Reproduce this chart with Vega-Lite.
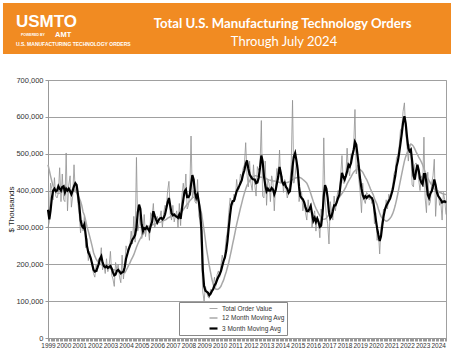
{
"$schema":"https://vega.github.io/schema/vega-lite/v6.json",
"padding":{"left":2,"top":3,"right":2,"bottom":0},
"background":"white",
"spacing":21,
"config":{"font":"Liberation Sans","view":{"stroke":null}},
"datasets":{"orders":[
{"d":"1999-01","t":300000,"a":470000,"s":348000},{"d":"1999-02","t":315000,"a":455000,"s":322000},{"d":"1999-03","t":420000,"a":440000,"s":345000},{"d":"1999-04","t":405000,"a":425000,"s":380000},{"d":"1999-05","t":375000,"a":412000,"s":400000},{"d":"1999-06","t":435000,"a":402000,"s":405000},{"d":"1999-07","t":385000,"a":396000,"s":398000},{"d":"1999-08","t":380000,"a":393000,"s":400000},{"d":"1999-09","t":395000,"a":392000,"s":412000},{"d":"1999-10","t":462000,"a":393000,"s":405000},{"d":"1999-11","t":370000,"a":395000,"s":400000},{"d":"1999-12","t":445000,"a":398000,"s":410000},
{"d":"2000-01","t":375000,"a":400000,"s":412000},{"d":"2000-02","t":370000,"a":402000,"s":395000},{"d":"2000-03","t":502000,"a":403000,"s":405000},{"d":"2000-04","t":345000,"a":402000,"s":400000},{"d":"2000-05","t":415000,"a":402000,"s":405000},{"d":"2000-06","t":440000,"a":401000,"s":398000},{"d":"2000-07","t":355000,"a":400000,"s":390000},{"d":"2000-08","t":385000,"a":401000,"s":400000},{"d":"2000-09","t":470000,"a":402000,"s":412000},{"d":"2000-10","t":395000,"a":400000,"s":420000},{"d":"2000-11","t":410000,"a":395000,"s":415000},{"d":"2000-12","t":365000,"a":388000,"s":390000},
{"d":"2001-01","t":335000,"a":380000,"s":362000},{"d":"2001-02","t":285000,"a":371000,"s":320000},{"d":"2001-03","t":320000,"a":360000,"s":305000},{"d":"2001-04","t":290000,"a":342000,"s":300000},{"d":"2001-05","t":330000,"a":333000,"s":308000},{"d":"2001-06","t":245000,"a":318000,"s":280000},{"d":"2001-07","t":270000,"a":302000,"s":250000},{"d":"2001-08","t":210000,"a":290000,"s":232000},{"d":"2001-09","t":235000,"a":276000,"s":225000},{"d":"2001-10","t":220000,"a":263000,"s":215000},{"d":"2001-11","t":195000,"a":248000,"s":200000},{"d":"2001-12","t":175000,"a":232000,"s":185000},
{"d":"2002-01","t":165000,"a":222000,"s":180000},{"d":"2002-02","t":200000,"a":214000,"s":182000},{"d":"2002-03","t":180000,"a":209000,"s":190000},{"d":"2002-04","t":215000,"a":205000,"s":200000},{"d":"2002-05","t":210000,"a":201000,"s":215000},{"d":"2002-06","t":245000,"a":199000,"s":222000},{"d":"2002-07","t":185000,"a":197000,"s":205000},{"d":"2002-08","t":200000,"a":195000,"s":195000},{"d":"2002-09","t":175000,"a":193000,"s":192000},{"d":"2002-10","t":215000,"a":191000,"s":195000},{"d":"2002-11","t":180000,"a":190000,"s":190000},{"d":"2002-12","t":195000,"a":189000,"s":193000},
{"d":"2003-01","t":235000,"a":188000,"s":195000},{"d":"2003-02","t":170000,"a":187000,"s":188000},{"d":"2003-03","t":160000,"a":186000,"s":178000},{"d":"2003-04","t":140000,"a":185000,"s":170000},{"d":"2003-05","t":205000,"a":184000,"s":172000},{"d":"2003-06","t":185000,"a":183000,"s":182000},{"d":"2003-07","t":200000,"a":183000,"s":185000},{"d":"2003-08","t":165000,"a":182000,"s":180000},{"d":"2003-09","t":150000,"a":181000,"s":175000},{"d":"2003-10","t":225000,"a":180000,"s":178000},{"d":"2003-11","t":160000,"a":178000,"s":180000},{"d":"2003-12","t":195000,"a":177000,"s":192000},
{"d":"2004-01","t":250000,"a":183000,"s":215000},{"d":"2004-02","t":235000,"a":190000,"s":228000},{"d":"2004-03","t":245000,"a":197000,"s":240000},{"d":"2004-04","t":255000,"a":204000,"s":250000},{"d":"2004-05","t":290000,"a":212000,"s":258000},{"d":"2004-06","t":255000,"a":219000,"s":268000},{"d":"2004-07","t":330000,"a":226000,"s":272000},{"d":"2004-08","t":260000,"a":236000,"s":280000},{"d":"2004-09","t":490000,"a":246000,"s":300000},{"d":"2004-10","t":290000,"a":255000,"s":340000},{"d":"2004-11","t":310000,"a":263000,"s":362000},{"d":"2004-12","t":345000,"a":270000,"s":350000},
{"d":"2005-01","t":270000,"a":276000,"s":308000},{"d":"2005-02","t":285000,"a":281000,"s":290000},{"d":"2005-03","t":335000,"a":286000,"s":298000},{"d":"2005-04","t":275000,"a":292000,"s":296000},{"d":"2005-05","t":300000,"a":297000,"s":302000},{"d":"2005-06","t":305000,"a":298000,"s":295000},{"d":"2005-07","t":265000,"a":300000,"s":290000},{"d":"2005-08","t":340000,"a":302000,"s":305000},{"d":"2005-09","t":330000,"a":306000,"s":315000},{"d":"2005-10","t":365000,"a":308000,"s":344000},{"d":"2005-11","t":300000,"a":310000,"s":332000},{"d":"2005-12","t":310000,"a":311000,"s":322000},
{"d":"2006-01","t":330000,"a":312000,"s":313000},{"d":"2006-02","t":315000,"a":313000,"s":320000},{"d":"2006-03","t":325000,"a":314000,"s":324000},{"d":"2006-04","t":345000,"a":315000,"s":326000},{"d":"2006-05","t":300000,"a":317000,"s":322000},{"d":"2006-06","t":340000,"a":319000,"s":326000},{"d":"2006-07","t":360000,"a":320000,"s":335000},{"d":"2006-08","t":355000,"a":322000,"s":352000},{"d":"2006-09","t":400000,"a":325000,"s":368000},{"d":"2006-10","t":425000,"a":327000,"s":380000},{"d":"2006-11","t":335000,"a":329000,"s":358000},{"d":"2006-12","t":320000,"a":330000,"s":338000},
{"d":"2007-01","t":360000,"a":331000,"s":333000},{"d":"2007-02","t":315000,"a":332000,"s":335000},{"d":"2007-03","t":330000,"a":333000,"s":331000},{"d":"2007-04","t":345000,"a":333000,"s":329000},{"d":"2007-05","t":300000,"a":334000,"s":326000},{"d":"2007-06","t":365000,"a":335000,"s":335000},{"d":"2007-07","t":305000,"a":337000,"s":323000},{"d":"2007-08","t":385000,"a":343000,"s":350000},{"d":"2007-09","t":420000,"a":348000,"s":375000},{"d":"2007-10","t":390000,"a":353000,"s":398000},{"d":"2007-11","t":445000,"a":358000,"s":403000},{"d":"2007-12","t":350000,"a":363000,"s":382000},
{"d":"2008-01","t":360000,"a":367000,"s":382000},{"d":"2008-02","t":395000,"a":372000,"s":389000},{"d":"2008-03","t":548000,"a":376000,"s":417000},{"d":"2008-04","t":380000,"a":380000,"s":442000},{"d":"2008-05","t":400000,"a":382000,"s":430000},{"d":"2008-06","t":370000,"a":382000,"s":395000},{"d":"2008-07","t":365000,"a":380000,"s":380000},{"d":"2008-08","t":430000,"a":376000,"s":389000},{"d":"2008-09","t":330000,"a":368000,"s":368000},{"d":"2008-10","t":320000,"a":355000,"s":340000},{"d":"2008-11","t":230000,"a":338000,"s":290000},{"d":"2008-12","t":125000,"a":315000,"s":185000},
{"d":"2009-01","t":100000,"a":292000,"s":140000},{"d":"2009-02","t":140000,"a":265000,"s":128000},{"d":"2009-03","t":125000,"a":240000,"s":126000},{"d":"2009-04","t":112000,"a":218000,"s":123000},{"d":"2009-05","t":108000,"a":197000,"s":116000},{"d":"2009-06","t":132000,"a":178000,"s":120000},{"d":"2009-07","t":130000,"a":160000,"s":127000},{"d":"2009-08","t":138000,"a":146000,"s":132000},{"d":"2009-09","t":165000,"a":138000,"s":143000},{"d":"2009-10","t":140000,"a":133000,"s":148000},{"d":"2009-11","t":172000,"a":132000,"s":158000},{"d":"2009-12","t":182000,"a":133000,"s":166000},
{"d":"2010-01","t":165000,"a":136000,"s":173000},{"d":"2010-02","t":200000,"a":141000,"s":182000},{"d":"2010-03","t":225000,"a":149000,"s":195000},{"d":"2010-04","t":205000,"a":157000,"s":209000},{"d":"2010-05","t":230000,"a":168000,"s":218000},{"d":"2010-06","t":270000,"a":179000,"s":236000},{"d":"2010-07","t":290000,"a":192000,"s":263000},{"d":"2010-08","t":340000,"a":205000,"s":300000},{"d":"2010-09","t":380000,"a":222000,"s":335000},{"d":"2010-10","t":370000,"a":238000,"s":362000},{"d":"2010-11","t":360000,"a":256000,"s":371000},{"d":"2010-12","t":390000,"a":272000,"s":372000},
{"d":"2011-01","t":375000,"a":290000,"s":385000},{"d":"2011-02","t":430000,"a":308000,"s":398000},{"d":"2011-03","t":400000,"a":322000,"s":405000},{"d":"2011-04","t":405000,"a":337000,"s":412000},{"d":"2011-05","t":445000,"a":352000,"s":420000},{"d":"2011-06","t":430000,"a":366000,"s":428000},{"d":"2011-07","t":460000,"a":380000,"s":444000},{"d":"2011-08","t":470000,"a":393000,"s":455000},{"d":"2011-09","t":530000,"a":404000,"s":472000},{"d":"2011-10","t":445000,"a":414000,"s":482000},{"d":"2011-11","t":410000,"a":420000,"s":460000},{"d":"2011-12","t":480000,"a":426000,"s":444000},
{"d":"2012-01","t":420000,"a":432000,"s":438000},{"d":"2012-02","t":400000,"a":436000,"s":432000},{"d":"2012-03","t":470000,"a":438000,"s":430000},{"d":"2012-04","t":415000,"a":440000,"s":430000},{"d":"2012-05","t":385000,"a":440000,"s":420000},{"d":"2012-06","t":465000,"a":439000,"s":422000},{"d":"2012-07","t":455000,"a":438000,"s":435000},{"d":"2012-08","t":465000,"a":437000,"s":462000},{"d":"2012-09","t":590000,"a":436000,"s":495000},{"d":"2012-10","t":385000,"a":436000,"s":480000},{"d":"2012-11","t":380000,"a":435000,"s":440000},{"d":"2012-12","t":480000,"a":434000,"s":415000},
{"d":"2013-01","t":360000,"a":432000,"s":398000},{"d":"2013-02","t":430000,"a":430000,"s":405000},{"d":"2013-03","t":420000,"a":429000,"s":400000},{"d":"2013-04","t":370000,"a":428000,"s":400000},{"d":"2013-05","t":440000,"a":427000,"s":407000},{"d":"2013-06","t":420000,"a":426000,"s":403000},{"d":"2013-07","t":345000,"a":426000,"s":390000},{"d":"2013-08","t":415000,"a":425000,"s":400000},{"d":"2013-09","t":460000,"a":424000,"s":420000},{"d":"2013-10","t":430000,"a":423000,"s":438000},{"d":"2013-11","t":510000,"a":422000,"s":464000},{"d":"2013-12","t":420000,"a":421000,"s":448000},
{"d":"2014-01","t":440000,"a":421000,"s":425000},{"d":"2014-02","t":395000,"a":421000,"s":417000},{"d":"2014-03","t":430000,"a":421000,"s":421000},{"d":"2014-04","t":405000,"a":421000,"s":410000},{"d":"2014-05","t":380000,"a":422000,"s":405000},{"d":"2014-06","t":395000,"a":423000,"s":394000},{"d":"2014-07","t":420000,"a":425000,"s":398000},{"d":"2014-08","t":470000,"a":427000,"s":425000},{"d":"2014-09","t":645000,"a":430000,"s":465000},{"d":"2014-10","t":420000,"a":432000,"s":492000},{"d":"2014-11","t":440000,"a":434000,"s":502000},{"d":"2014-12","t":480000,"a":435000,"s":482000},
{"d":"2015-01","t":470000,"a":436000,"s":455000},{"d":"2015-02","t":370000,"a":436000,"s":410000},{"d":"2015-03","t":390000,"a":435000,"s":385000},{"d":"2015-04","t":395000,"a":433000,"s":380000},{"d":"2015-05","t":345000,"a":430000,"s":376000},{"d":"2015-06","t":370000,"a":427000,"s":368000},{"d":"2015-07","t":340000,"a":424000,"s":355000},{"d":"2015-08","t":320000,"a":420000,"s":344000},{"d":"2015-09","t":375000,"a":412000,"s":344000},{"d":"2015-10","t":340000,"a":403000,"s":350000},{"d":"2015-11","t":365000,"a":392000,"s":358000},{"d":"2015-12","t":300000,"a":381000,"s":338000},
{"d":"2016-01","t":330000,"a":370000,"s":318000},{"d":"2016-02","t":345000,"a":360000,"s":326000},{"d":"2016-03","t":290000,"a":352000,"s":315000},{"d":"2016-04","t":330000,"a":345000,"s":324000},{"d":"2016-05","t":315000,"a":338000,"s":315000},{"d":"2016-06","t":272000,"a":332000,"s":302000},{"d":"2016-07","t":350000,"a":327000,"s":305000},{"d":"2016-08","t":330000,"a":323000,"s":335000},{"d":"2016-09","t":543000,"a":322000,"s":385000},{"d":"2016-10","t":380000,"a":323000,"s":415000},{"d":"2016-11","t":330000,"a":325000,"s":405000},{"d":"2016-12","t":310000,"a":330000,"s":380000},
{"d":"2017-01","t":255000,"a":335000,"s":340000},{"d":"2017-02","t":370000,"a":340000,"s":325000},{"d":"2017-03","t":340000,"a":346000,"s":330000},{"d":"2017-04","t":320000,"a":351000,"s":344000},{"d":"2017-05","t":385000,"a":358000,"s":360000},{"d":"2017-06","t":345000,"a":365000,"s":360000},{"d":"2017-07","t":380000,"a":371000,"s":368000},{"d":"2017-08","t":400000,"a":377000,"s":380000},{"d":"2017-09","t":395000,"a":382000,"s":389000},{"d":"2017-10","t":440000,"a":387000,"s":418000},{"d":"2017-11","t":495000,"a":392000,"s":448000},{"d":"2017-12","t":420000,"a":397000,"s":438000},
{"d":"2018-01","t":420000,"a":403000,"s":430000},{"d":"2018-02","t":445000,"a":410000,"s":440000},{"d":"2018-03","t":515000,"a":418000,"s":452000},{"d":"2018-04","t":455000,"a":425000,"s":470000},{"d":"2018-05","t":440000,"a":431000,"s":465000},{"d":"2018-06","t":500000,"a":437000,"s":475000},{"d":"2018-07","t":490000,"a":444000,"s":495000},{"d":"2018-08","t":520000,"a":450000,"s":510000},{"d":"2018-09","t":620000,"a":454000,"s":532000},{"d":"2018-10","t":445000,"a":457000,"s":525000},{"d":"2018-11","t":470000,"a":458000,"s":495000},{"d":"2018-12","t":430000,"a":458000,"s":465000},
{"d":"2019-01","t":395000,"a":457000,"s":430000},{"d":"2019-02","t":340000,"a":454000,"s":405000},{"d":"2019-03","t":420000,"a":450000,"s":388000},{"d":"2019-04","t":375000,"a":443000,"s":380000},{"d":"2019-05","t":365000,"a":436000,"s":385000},{"d":"2019-06","t":395000,"a":430000,"s":380000},{"d":"2019-07","t":390000,"a":422000,"s":384000},{"d":"2019-08","t":375000,"a":413000,"s":386000},{"d":"2019-09","t":385000,"a":404000,"s":382000},{"d":"2019-10","t":365000,"a":396000,"s":380000},{"d":"2019-11","t":375000,"a":389000,"s":371000},{"d":"2019-12","t":310000,"a":378000,"s":348000},
{"d":"2020-01","t":340000,"a":370000,"s":322000},{"d":"2020-02","t":265000,"a":362000,"s":298000},{"d":"2020-03","t":290000,"a":350000,"s":280000},{"d":"2020-04","t":228000,"a":339000,"s":263000},{"d":"2020-05","t":300000,"a":330000,"s":275000},{"d":"2020-06","t":320000,"a":325000,"s":305000},{"d":"2020-07","t":350000,"a":322000,"s":330000},{"d":"2020-08","t":345000,"a":319000,"s":348000},{"d":"2020-09","t":375000,"a":317000,"s":358000},{"d":"2020-10","t":350000,"a":318000,"s":365000},{"d":"2020-11","t":390000,"a":321000,"s":372000},{"d":"2020-12","t":380000,"a":325000,"s":378000},
{"d":"2021-01","t":400000,"a":330000,"s":390000},{"d":"2021-02","t":415000,"a":338000,"s":403000},{"d":"2021-03","t":445000,"a":347000,"s":421000},{"d":"2021-04","t":455000,"a":360000,"s":440000},{"d":"2021-05","t":490000,"a":375000,"s":465000},{"d":"2021-06","t":495000,"a":392000,"s":480000},{"d":"2021-07","t":520000,"a":410000,"s":502000},{"d":"2021-08","t":565000,"a":428000,"s":528000},{"d":"2021-09","t":570000,"a":446000,"s":555000},{"d":"2021-10","t":615000,"a":463000,"s":585000},{"d":"2021-11","t":638000,"a":480000,"s":602000},{"d":"2021-12","t":560000,"a":492000,"s":582000},
{"d":"2022-01","t":520000,"a":502000,"s":545000},{"d":"2022-02","t":480000,"a":512000,"s":515000},{"d":"2022-03","t":525000,"a":520000,"s":507000},{"d":"2022-04","t":500000,"a":526000,"s":511000},{"d":"2022-05","t":415000,"a":524000,"s":480000},{"d":"2022-06","t":410000,"a":520000,"s":440000},{"d":"2022-07","t":470000,"a":513000,"s":430000},{"d":"2022-08","t":475000,"a":505000,"s":453000},{"d":"2022-09","t":465000,"a":498000,"s":470000},{"d":"2022-10","t":430000,"a":491000,"s":455000},{"d":"2022-11","t":400000,"a":485000,"s":432000},{"d":"2022-12","t":440000,"a":478000,"s":422000},
{"d":"2023-01","t":410000,"a":470000,"s":417000},{"d":"2023-02","t":545000,"a":460000,"s":445000},{"d":"2023-03","t":380000,"a":450000,"s":445000},{"d":"2023-04","t":340000,"a":441000,"s":420000},{"d":"2023-05","t":450000,"a":434000,"s":389000},{"d":"2023-06","t":360000,"a":427000,"s":380000},{"d":"2023-07","t":370000,"a":421000,"s":392000},{"d":"2023-08","t":420000,"a":415000,"s":398000},{"d":"2023-09","t":440000,"a":409000,"s":412000},{"d":"2023-10","t":485000,"a":404000,"s":430000},{"d":"2023-11","t":330000,"a":401000,"s":415000},{"d":"2023-12","t":395000,"a":398000,"s":395000},
{"d":"2024-01","t":400000,"a":397000,"s":385000},{"d":"2024-02","t":360000,"a":395000,"s":380000},{"d":"2024-03","t":370000,"a":394000,"s":375000},{"d":"2024-04","t":320000,"a":392000,"s":368000},{"d":"2024-05","t":395000,"a":391000,"s":370000},{"d":"2024-06","t":375000,"a":390000,"s":371000},{"d":"2024-07","t":335000,"a":389000,"s":367000}
]},
"vconcat":[
{
"width":403,"height":51,
"layer":[
{"data":{"values":[{"band":"header"}]},"mark":{"type":"rect","color":"#F18B22"},
 "encoding":{"x":{"datum":-0.1117,"type":"quantitative","scale":{"domain":[0,1]},"axis":null},"x2":{"datum":1},"y":{"datum":0,"type":"quantitative","scale":{"domain":[0,1],"reverse":true},"axis":null},"y2":{"datum":1}}},
{"data":{"values":[{"label":"USMTO"}]},"mark":{"type":"text","align":"left","baseline":"alphabetic","fontSize":17,"fontWeight":"bold","color":"white"},
 "encoding":{"text":{"field":"label"},"x":{"datum":-0.0794,"type":"quantitative"},"y":{"datum":0.47,"type":"quantitative"}}},
{"data":{"values":[{"label":"POWERED BY"}]},"mark":{"type":"text","align":"left","baseline":"middle","fontSize":3.5,"fontWeight":"bold","color":"white"},
 "encoding":{"text":{"field":"label"},"x":{"datum":-0.067,"type":"quantitative"},"y":{"datum":0.63,"type":"quantitative"}}},
{"data":{"values":[{"label":"AMT"}]},"mark":{"type":"text","align":"left","baseline":"middle","fontSize":7.5,"fontWeight":"bold","color":"white"},
 "encoding":{"text":{"field":"label"},"x":{"datum":0.0174,"type":"quantitative"},"y":{"datum":0.63,"type":"quantitative"}}},
{"data":{"values":[{"label":"U.S. MANUFACTURING TECHNOLOGY ORDERS"}]},"mark":{"type":"text","align":"left","baseline":"middle","fontSize":5,"fontWeight":"bold","color":"white"},
 "encoding":{"text":{"field":"label"},"x":{"datum":-0.0794,"type":"quantitative"},"y":{"datum":0.81,"type":"quantitative"}}},
{"data":{"values":[{"label":"Total U.S. Manufacturing Technology Orders"}]},"mark":{"type":"text","align":"center","baseline":"middle","fontSize":13.2,"fontWeight":"bold","font":"Lato","color":"white"},
 "encoding":{"text":{"field":"label"},"x":{"datum":0.582,"type":"quantitative"},"y":{"datum":0.42,"type":"quantitative"}}},
{"data":{"values":[{"label":"Through July 2024"}]},"mark":{"type":"text","align":"center","baseline":"middle","fontSize":13,"font":"Lato","color":"white"},
 "encoding":{"text":{"field":"label"},"x":{"datum":0.5856,"type":"quantitative"},"y":{"datum":0.765,"type":"quantitative"}}}
]
},
{
"width":398,"height":258,
"view":{"stroke":"#a0a0a0"},
"data":{"name":"orders"},
"transform":[{"fold":["t","a","s"],"as":["series","value"]}],
"encoding":{
 "x":{"field":"d","type":"temporal","scale":{"domain":["1999-01-01","2024-07-01"]},
  "axis":{"title":null,"grid":false,"tickCount":{"interval":"month","step":1},"labelExpr":"month(datum.value) == 0 ? timeFormat(datum.value, '%Y') : ''","labelOverlap":false,"labelFlush":false,"labelFontSize":6.5,"labelColor":"#333333","labelPadding":1,"tickSize":3,"tickColor":"#999999","domainColor":"#999999"}},
 "y":{"field":"value","type":"quantitative","scale":{"domain":[0,700000],"nice":false},
  "axis":{"values":[0,100000,200000,300000,400000,500000,600000,700000],"format":",d","labelFontSize":7.5,"labelColor":"#333333","labelPadding":2,"tickSize":3,"tickColor":"#999999","domainColor":"#999999","grid":true,"gridColor":"#a0a0a0","title":"$ Thousands","titleFontSize":8,"titleFontWeight":"normal","titleColor":"#222222","titlePadding":0}},
 "color":{"field":"series","type":"nominal","scale":{"domain":["t","a","s"],"range":["#909090","#a8a8a8","#000000"]},
  "legend":{"title":null,"orient":"none","legendX":131,"legendY":299,"symbolType":"stroke","symbolSize":64,"labelFontSize":6.5,"labelColor":"#333333","labelOffset":3,"fillColor":"white","strokeColor":"#888888","padding":2,"rowPadding":1,"symbolOffset":27,"labelExpr":"datum.value == 't' ? 'Total Order Value' : datum.value == 'a' ? '12 Month Moving Avg' : '3 Month Moving Avg'"}},
 "strokeWidth":{"field":"series","type":"nominal","scale":{"domain":["t","a","s"],"range":[0.8,2.2,2.8]},
  "legend":{"title":null,"orient":"none","legendX":131,"legendY":299,"symbolType":"stroke","symbolSize":64,"labelFontSize":6.5,"labelColor":"#333333","labelOffset":3,"fillColor":"white","strokeColor":"#888888","padding":2,"rowPadding":1,"symbolOffset":27,"labelExpr":"datum.value == 't' ? 'Total Order Value' : datum.value == 'a' ? '12 Month Moving Avg' : '3 Month Moving Avg'"}}
},
"layer":[
 {"transform":[{"filter":"datum.series == 't'"}],"mark":{"type":"line"}},
 {"transform":[{"filter":"datum.series == 'a'"}],"mark":{"type":"line"}},
 {"transform":[{"filter":"datum.series == 's'"}],"mark":{"type":"line"}}
]
}
]
}
